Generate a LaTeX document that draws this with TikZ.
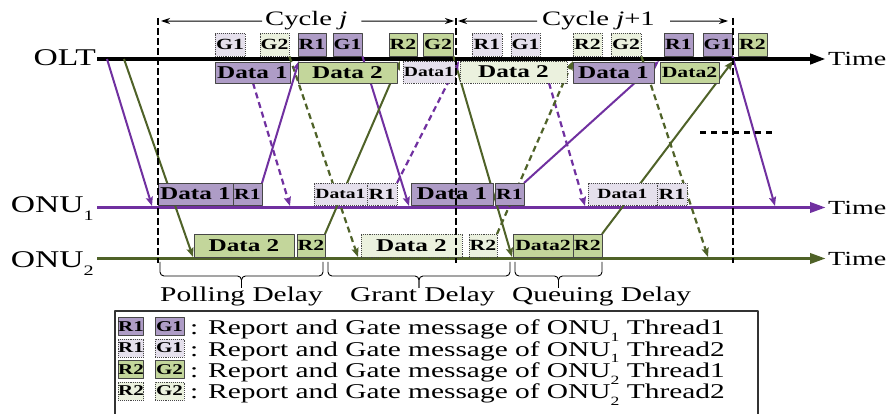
\documentclass[tikz,border=0pt]{standalone}
\usepackage{fontspec}
\setmainfont{Liberation Serif}[FakeStretch=1.4]
\usetikzlibrary{arrows.meta}
\definecolor{plin}{HTML}{7030A0}
\definecolor{glin}{HTML}{4F6228}
\definecolor{pfill}{HTML}{AE9CC6}
\definecolor{plight}{HTML}{E5E0EC}
\definecolor{gfill}{HTML}{C3D69B}
\definecolor{glight}{HTML}{EBF1DE}
\newcommand\fs[1]{\fontsize{#1}{#1}\selectfont}
\newcommand\lsub[1]{\raisebox{-0.32em}{\scalebox{0.6}{#1}}}
% message box: style, name, x1, y1, x2, y2, text
\newcommand\msg[7]{\node[#1,minimum width={#5pt-#3pt},minimum height={#6pt-#4pt}] (#2) at ({(#3+#5)/2},{(#4+#6)/2}) {#7};}
% delay brace below the ONU2 time line: x1, x2
\newcommand\dbrace[2]{%
  \draw[brc] (#1,262) |- ({(#1+#2)/2},276) -- ({(#1+#2)/2},288);
  \draw[brc] (#2,262) |- ({(#1+#2)/2},276) -- ({(#1+#2)/2},288);}
\begin{document}
\begin{tikzpicture}[x=1pt,y=-1pt,line join=round,
  bx/.style={draw=black!72,line width=0.9pt,inner sep=0pt,font=\bfseries\fs{15.5}},
  t1p/.style={bx,fill=pfill},
  t2p/.style={bx,fill=plight,densely dotted},
  t1g/.style={bx,fill=gfill},
  t2g/.style={bx,fill=glight,densely dotted},
  big/.style={font=\bfseries\fs{18}},
  mid/.style={font=\bfseries\fs{15.5}},
  small/.style={font=\bfseries\fs{14}},
  lg/.style={font=\bfseries\fs{15}},
  lab/.style={inner sep=0pt,font=\fs{24}},
  timelab/.style={inner sep=0pt,anchor=west,font=\fs{20}},
  dlab/.style={inner sep=0pt,anchor=base west,font=\fs{21}},
  ltxt/.style={inner sep=0pt,anchor=base west,font=\fs{21}},
  tline/.style={line width=3.5pt,-{Triangle[length=16pt,width=10pt]}},
  conn/.style={line width=2pt,-{Stealth[length=9pt,width=7pt,inset=1.5pt]}},
  dsh/.style={conn,dash pattern=on 6pt off 4pt,line width=2.2pt},
  vdash/.style={line width=2.6pt,dash pattern=on 7pt off 3pt},
  cyc/.style={line width=1pt,-{Stealth[length=9pt,width=6pt]}},
  brc/.style={line width=0.9pt,rounded corners=4pt},
]
\fill[white] (0,0) rectangle (887,414);
\useasboundingbox (0,0) rectangle (887,414);

% ---- time lines ----
\coordinate (olt0) at (97,59);
\coordinate (olt1) at (826,59);
\coordinate (on10) at (97,207.5);
\coordinate (on11) at (826,207.5);
\coordinate (on20) at (97,258.5);
\coordinate (on21) at (826,258.5);
\draw[tline,line width=4.5pt,black] (olt0) -- (olt1);
\draw[tline,plin] (on10) -- (on11);
\draw[tline,glin] (on20) -- (on21);
\node[lab,anchor=base east] (olt) at (96,66) {OLT};
\node[lab,anchor=base east] (onu1) at (94,213) {ONU\lsub{1}};
\node[lab,anchor=base east] (onu2) at (94,268) {ONU\lsub{2}};
\node[timelab] (tm0) at (828,59) {Time};
\node[timelab] (tm1) at (828,208) {Time};
\node[timelab] (tm2) at (828,259) {Time};

% ---- report / gate messages above the OLT line ----
\msg{t2p}{tg1a}{215}{33}{245}{56}{G1}
\msg{t2g}{tg2a}{260}{33}{289}{56}{G2}
\msg{t1p}{tr1a}{298}{33}{326}{56}{R1}
\msg{t1p}{tg1b}{333}{33}{362}{56}{G1}
\msg{t1g}{tr2a}{389}{33}{417}{56}{R2}
\msg{t1g}{tg2b}{423}{33}{453}{56}{G2}
\msg{t2p}{tr1b}{472}{33}{502}{56}{R1}
\msg{t2p}{tg1c}{511}{33}{540}{56}{G1}
\msg{t2g}{tr2b}{573}{33}{602}{56}{R2}
\msg{t2g}{tg2c}{611}{33}{641}{56}{G2}
\msg{t1p}{tr1c}{664}{33}{693}{56}{R1}
\msg{t1p}{tg1d}{703}{33}{732}{56}{G1}
\msg{t1g}{tr2c}{738}{33}{767}{56}{R2}

% ---- connectors: OLT -> ONU ----
\coordinate (a1) at (107,59);
\coordinate (a2) at (124,59);
\coordinate (e1) at (152,206);
\coordinate (e2) at (193,257);
\coordinate (e3) at (290,206);
\coordinate (e4) at (358,257);
\coordinate (e5) at (409,206);
\coordinate (e6) at (512,257);
\coordinate (e7) at (585,206);
\coordinate (e8) at (708,257);
\coordinate (e9) at (775,206);
\coordinate (b3) at (253,83);
\coordinate (b7) at (549,83);
\draw[conn,plin] (a1) -- (e1);
\draw[conn,glin] (a2) -- (e2);
\draw[dsh,plin] (b3) -- (e3);
\draw[dsh,glin] (tg2a.south east) -- (e4);
\draw[conn,plin] (tg1b.south east) -- (e5);
\draw[conn,glin] (tg2b.south east) -- (e6);
\draw[dsh,plin] (b7) -- (e7);
\draw[dsh,glin] (tg2c.south east) -- (e8);
\draw[conn,plin] (tg1d.south east) -- (e9);

% ---- connectors: ONU -> OLT ----
\coordinate (f1) at (299,61);
\coordinate (f2) at (400,61);
\coordinate (f3) at (459,61);
\coordinate (f4) at (573,61);
\coordinate (f5) at (659,61);
\coordinate (f6) at (733,61);
\coordinate (g1) at (262,183);
\coordinate (g2) at (325,234);
\coordinate (g3) at (397,183);
\coordinate (g4) at (497,234);
\coordinate (g5) at (524,183);
\coordinate (g6) at (602,234);
\draw[conn,plin] (g1) -- (f1);
\draw[conn,glin] (g2) -- (f2);
\draw[dsh,plin] (g3) -- (f3);
\draw[dsh,glin] (g4) -- (f4);
\draw[conn,plin] (g5) -- (f5);
\draw[conn,glin] (g6) -- (f6);

% ---- data boxes below the OLT line ----
\msg{t1p,big}{od1a}{215}{62}{290}{83}{Data 1}
\msg{t1g,big}{od2a}{298}{62}{397}{83}{Data 2}
\msg{t2p,small}{od1b}{403}{61}{455}{83}{Data1}
\msg{t2g,big}{od2b}{460}{61}{567}{83}{Data 2}
\msg{t1p,big}{od1c}{573}{62}{654}{83}{Data 1}
\msg{t1g,mid}{od2c}{660}{62}{719}{83}{Data2}

% ---- ONU1 uplink bursts ----
\msg{t1p,big}{ud1a}{158}{183}{233}{205}{Data 1}
\msg{t1p}{ur1a}{233}{183}{262}{205}{R1}
\msg{t2p,small}{ud1b}{314}{183}{367}{205}{Data1}
\msg{t2p}{ur1b}{367}{183}{397}{205}{R1}
\msg{t1p,big}{ud1c}{411}{183}{493}{205}{Data 1}
\msg{t1p}{ur1c}{495}{183}{524}{205}{R1}
\msg{t2p,small}{ud1d}{588}{183}{657}{205}{Data1}
\msg{t2p}{ur1d}{657}{183}{687}{205}{R1}

% ---- ONU2 uplink bursts ----
\msg{t1g,big}{vd2a}{194}{234}{294}{257}{Data 2}
\msg{t1g}{vr2a}{297}{234}{325}{257}{R2}
\msg{t2g,big}{vd2b}{361}{234}{462}{257}{Data 2}
\msg{t2g}{vr2b}{469}{234}{497}{257}{R2}
\msg{t1g,mid}{vd2c}{513}{234}{573}{257}{Data2}
\msg{t1g}{vr2c}{573}{234}{602}{257}{R2}

% ---- cycle boundaries ----
\foreach \x/\n in {158/0,456/1,733/2}{
  \coordinate (vt\n) at (\x,18);
  \coordinate (vb\n) at (\x,263);
  \draw[vdash] (vt\n) -- (vb\n);
}
\coordinate (h0) at (700,133);
\coordinate (h1) at (773,133);
\draw[line width=3pt,dash pattern=on 6pt off 5pt] (h0) -- (h1);

% ---- cycle labels ----
\node[inner sep=0pt,anchor=base west,font=\fs{20.5}] (cj) at (265,26) {Cycle \textit{j}};
\node[inner sep=0pt,anchor=base west,font=\fs{20.5}] (ck) at (542,26) {Cycle \textit{j}+1};
\coordinate (c0) at (161,21);
\coordinate (c1) at (454,21);
\coordinate (c2) at (458,21);
\coordinate (c3) at (728,21);
\draw[cyc] ([xshift=-3pt]cj.west) -- (c0);
\draw[cyc] ([xshift=14pt]cj.east) -- (c1);
\draw[cyc] ([xshift=-5pt]ck.west) -- (c2);
\draw[cyc] ([xshift=15pt]ck.east) -- (c3);

% ---- delay braces ----
\dbrace{160}{323}
\dbrace{328}{510}
\dbrace{515}{602}
\node[dlab] (pd) at (160,302) {Polling Delay};
\node[dlab] (gd) at (350,302) {Grant Delay};
\node[dlab] (qd) at (512,302) {Queuing Delay};

% ---- legend ----
\draw[line width=1.2pt,black!80] (115,416) |- (758,311) -- (758,416);
\msg{t1p,lg}{lr1}{119}{317.5}{143}{335.5}{R1}
\msg{t1p,lg}{lg1}{155}{317.5}{184}{335.5}{G1}
\msg{t2p,lg}{lr2}{119}{339}{143}{357}{R1}
\msg{t2p,lg}{lg2}{155}{339}{184}{357}{G1}
\msg{t1g,lg}{lr3}{119}{360.5}{143}{378.5}{R2}
\msg{t1g,lg}{lg3}{155}{360.5}{184}{378.5}{G2}
\msg{t2g,lg}{lr4}{119}{382}{143}{400}{R2}
\msg{t2g,lg}{lg4}{155}{382}{184}{400}{G2}
\node[ltxt] (lt1) at (190,334.5) {: Report and Gate message of ONU\lsub{1} Thread1};
\node[ltxt] (lt2) at (190,356) {: Report and Gate message of ONU\lsub{1} Thread2};
\node[ltxt] (lt3) at (190,377.5) {: Report and Gate message of ONU\lsub{2} Thread1};
\node[ltxt] (lt4) at (190,399) {: Report and Gate message of ONU\lsub{2} Thread2};
\end{tikzpicture}
\end{document}
